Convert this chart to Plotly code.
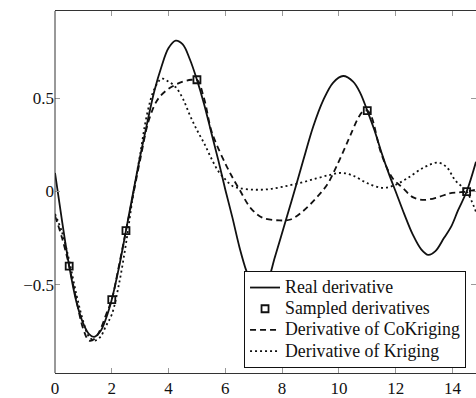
import plotly.graph_objects as go

# Real derivative
x_real = [0, 0.25, 0.5, 0.75, 1.0, 1.2, 1.38, 1.6, 1.8, 2.0, 2.25, 2.5, 2.76, 3.0, 3.25,
          3.5, 3.75, 4.0, 4.25, 4.5, 4.75, 5.0, 5.25, 5.5, 5.75, 6.0, 6.25, 6.5, 6.75,
          7.0, 7.2, 7.45, 7.75, 8.1, 8.43, 8.75, 9.1, 9.45, 9.8, 10.15, 10.5, 10.75,
          11.0, 11.25, 11.5, 11.75, 12.0, 12.3, 12.6, 12.9, 13.15, 13.4, 13.7, 13.95,
          14.2, 14.5, 14.83]
y_real = [0.10, -0.16, -0.40, -0.59, -0.71, -0.765, -0.78, -0.75, -0.68, -0.58, -0.41,
          -0.21, 0.0, 0.19, 0.37, 0.54, 0.67, 0.77, 0.81, 0.79, 0.71, 0.60, 0.47, 0.32,
          0.17, 0.01, -0.14, -0.30, -0.43, -0.52, -0.55, -0.50, -0.35, -0.17, 0.0, 0.17,
          0.35, 0.49, 0.585, 0.62, 0.59, 0.53, 0.434, 0.33, 0.21, 0.10, 0.0, -0.12,
          -0.23, -0.31, -0.34, -0.32, -0.25, -0.19, -0.10, 0.0, 0.16]

# Sampled derivatives
x_samp = [0.5, 2.0, 2.5, 5.0, 11.0, 14.5]
y_samp = [-0.40, -0.58, -0.21, 0.60, 0.434, 0.0]

# Derivative of CoKriging
x_cok = [0, 0.25, 0.5, 0.75, 1.0, 1.2, 1.4, 1.6, 1.8, 2.0, 2.25, 2.5, 2.75, 3.0, 3.3,
         3.6, 3.9, 4.2, 4.5, 4.8, 5.0, 5.25, 5.5, 5.7, 6.0, 6.2, 6.5, 6.9, 7.3, 7.9,
         8.3, 8.7, 9.2, 9.6, 9.9, 10.2, 10.4, 10.7, 10.85, 11.0, 11.15, 11.5, 11.9,
         12.25, 12.6, 13.0, 13.5, 13.9, 14.2, 14.5, 14.83]
y_cok = [-0.13, -0.25, -0.40, -0.58, -0.74, -0.80, -0.79, -0.74, -0.66, -0.58, -0.40,
         -0.21, -0.02, 0.17, 0.38, 0.49, 0.54, 0.57, 0.59, 0.60, 0.60, 0.50, 0.33,
         0.25, 0.15, 0.09, 0.01, -0.09, -0.14, -0.155, -0.15, -0.11, -0.035, 0.04,
         0.13, 0.23, 0.30, 0.40, 0.43, 0.434, 0.40, 0.20, 0.07, 0.02, -0.03, -0.045,
         -0.03, -0.01, -0.005, 0.0, 0.01]

# Derivative of Kriging
x_kr = [0, 0.25, 0.5, 0.75, 1.0, 1.2, 1.4, 1.6, 1.8, 2.0, 2.25, 2.5, 2.75, 3.0, 3.25,
        3.5, 3.76, 4.0, 4.25, 4.5, 4.75, 5.0, 5.25, 5.5, 5.75, 6.0, 6.25, 6.5, 7.0,
        7.5, 8.0, 8.6, 9.2, 9.7, 10.1, 10.5, 11.0, 11.5, 11.9, 12.4, 13.0, 13.5, 13.8,
        14.1, 14.5, 14.83]
y_kr = [-0.12, -0.22, -0.37, -0.55, -0.70, -0.78, -0.80, -0.78, -0.72, -0.66, -0.50,
        -0.28, -0.02, 0.20, 0.42, 0.55, 0.606, 0.59, 0.56, 0.50, 0.41, 0.33, 0.26,
        0.18, 0.11, 0.065, 0.03, 0.018, 0.01, 0.012, 0.025, 0.045, 0.07, 0.09, 0.10,
        0.085, 0.045, 0.02, 0.03, 0.07, 0.13, 0.155, 0.13, 0.06, 0.0, -0.11]

x_ticks = [0, 2, 4, 6, 8, 10, 12, 14]
y_ticks = [-0.5, 0, 0.5]
y_tick_text = ["\u22120.5", "0", "0.5"]

FONT = "'Liberation Serif', 'DejaVu Serif', serif"
INK = "#111111"


def entry(label):
    # legend rows are spaced from the (smaller) legend font; the label itself is larger
    return "<span style='font-size:17.8px'>" + label + "</span>"


fig = go.Figure()
fig.add_trace(go.Scatter(x=x_real, y=y_real, mode="lines", name=entry("Real derivative"),
                         line=dict(color=INK, width=1.8, shape="spline", smoothing=1.0),
                         legendrank=1))
fig.add_trace(go.Scatter(x=x_cok, y=y_cok, mode="lines",
                         name=entry("Derivative of CoKriging"),
                         line=dict(color=INK, width=1.8, dash="6px,4px", shape="spline",
                                   smoothing=1.0),
                         legendrank=3))
fig.add_trace(go.Scatter(x=x_kr, y=y_kr, mode="lines", name=entry("Derivative of Kriging"),
                         line=dict(color=INK, width=1.8, dash="2px,3px", shape="spline",
                                   smoothing=1.0),
                         legendrank=4))
fig.add_trace(go.Scatter(x=x_samp, y=y_samp, mode="markers",
                         name=entry("Sampled derivatives"),
                         marker=dict(symbol="square-open", size=7, color=INK,
                                     line=dict(color=INK, width=1.8)),
                         legendrank=2))

fig.update_layout(
    width=476, height=398,
    margin=dict(l=55, r=0, t=11, b=21),
    paper_bgcolor="white", plot_bgcolor="white",
    font=dict(family=FONT, size=17, color=INK),
    showlegend=True,
    legend=dict(x=0.449, y=0.014, xanchor="left", yanchor="bottom",
                bgcolor="white", bordercolor=INK, borderwidth=1,
                font=dict(family=FONT, size=14, color=INK),
                tracegroupgap=0, itemwidth=30),
    xaxis=dict(range=[0, 14.83], tickvals=x_ticks, ticks="inside", ticklen=5,
               tickwidth=1, tickcolor="#999999", showline=True, linecolor="#333333",
               linewidth=1, mirror="ticks", showgrid=False, zeroline=False),
    yaxis=dict(range=[-0.974, 0.969], tickvals=y_ticks, ticktext=y_tick_text,
               ticks="inside", ticklen=5, tickwidth=1, tickcolor="#999999",
               showline=False, mirror="ticks", showgrid=False, zeroline=False),
    shapes=[dict(type="line", xref="paper", yref="paper", x0=0, x1=0, y0=0, y1=1,
                 line=dict(color="#333333", width=1))],
)

fig.write_html("out.html")
